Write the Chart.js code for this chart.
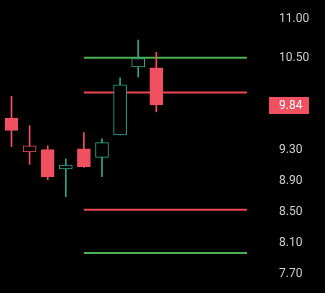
<!DOCTYPE html>
<html>
<head>
<meta charset="utf-8">
<script src="https://cdn.jsdelivr.net/npm/chart.js@4.4.1/dist/chart.umd.min.js"></script>
<style>
  html, body { margin: 0; padding: 0; background: #000; }
  #wrap { width: 325px; height: 293px; }
</style>
</head>
<body>
<div id="wrap"><canvas id="myChart"></canvas></div>
<script>
// candles
var opens  = [9.72, 9.28, 9.31, 9.06, 9.32, 9.21, 9.50, 10.38, 10.37]
var highs  = [10.00, 9.62, 9.36, 9.19, 9.53, 9.45, 10.24, 10.73, 10.57]
var lows   = [9.35, 9.12, 8.92, 8.70, 9.08, 8.96, 9.50, 10.25, 9.80]
var closes = [9.56, 9.36, 8.96, 9.11, 9.09, 9.40, 10.15, 10.49, 9.89]
// hollow = close above open, red = close below previous close
var upColor = '#2ea58c'
var downColor = '#f0505f'

var yTicks = [11.00, 10.50, 9.90, 9.30, 8.90, 8.50, 8.10, 7.70]
var lastPrice = 9.84

// horizontal levels: [price, colour], drawn from candle index levelStart to the right edge
var levels = [[10.50, '#4caf50'], [10.05, '#e8474f'], [8.53, '#e8474f'], [7.97, '#4caf50']]
var levelStart = 4

var xMin = -0.635, xMax = 13.01
var yMin = 7.453, yMax = 11.248

function candleColor(i){
  var prev = i > 0 ? closes[i-1] : opens[i]
  return closes[i] < prev ? downColor : upColor
}

var bodies = opens.map((o,i)=>({x:i, y:[opens[i], closes[i]]}))
var wicks = opens.map((o,i)=>({x:i, y:[lows[i], highs[i]]}))
var colors = opens.map((o,i)=>candleColor(i))
var fills = opens.map((o,i)=>closes[i] > opens[i] ? '#000' : candleColor(i))

var datasets = [
  {
    type: 'bar',
    data: bodies,
    backgroundColor: fills,
    borderColor: colors,
    borderWidth: 1,
    borderSkipped: false,
    barThickness: 13,
    grouped: false,
    order: 1
  },
  {
    type: 'bar',
    data: wicks,
    backgroundColor: colors,
    borderWidth: 0,
    barThickness: 1,
    grouped: false,
    order: 2
  }
]
levels.forEach(l=>{
  datasets.push({
    type: 'line',
    data: [{x: levelStart, y: l[0]}, {x: xMax, y: l[0]}],
    borderColor: l[1],
    borderWidth: 2,
    pointRadius: 0,
    order: 3
  })
})

var priceTag = {
  id: 'priceTag',
  afterDraw(chart){
    var c = chart.ctx
    var y = chart.scales.y.getPixelForValue(closes[closes.length-1])
    var x = chart.chartArea.right + 22
    c.save()
    c.fillStyle = downColor
    c.fillRect(x, Math.round(y) - 8, 40, 17)
    c.fillStyle = '#fff'
    c.font = '12px Roboto'
    c.textBaseline = 'middle'
    c.fillText(lastPrice.toFixed(2), x + 10, Math.round(y) + 1)
    c.restore()
  }
}

var ctx = document.getElementById('myChart').getContext('2d')
var myChart = new Chart(ctx, {
  type: 'bar',
  data: { datasets: datasets },
  plugins: [priceTag],
  options: {
    responsive: true,
    maintainAspectRatio: false,
    animation: false,
    layout: { padding: 0 },
    plugins: { legend: { display: false }, tooltip: { enabled: false } },
    scales: {
      x: { type: 'linear', min: xMin, max: xMax, offset: false, display: false },
      y: {
        position: 'right',
        min: yMin,
        max: yMax,
        grid: { display: false, drawTicks: false },
        border: { display: false },
        afterBuildTicks: axis => { axis.ticks = yTicks.map(v=>({value: v})) },
        afterFit: axis => { axis.width = 78; axis.paddingTop = 0; axis.paddingBottom = 0 },
        ticks: {
          padding: 32,
          color: '#cfcfcf',
          font: { family: 'Roboto', size: 12 },
          callback: v => v.toFixed(2)
        }
      }
    }
  }
})
</script>
</body>
</html>
